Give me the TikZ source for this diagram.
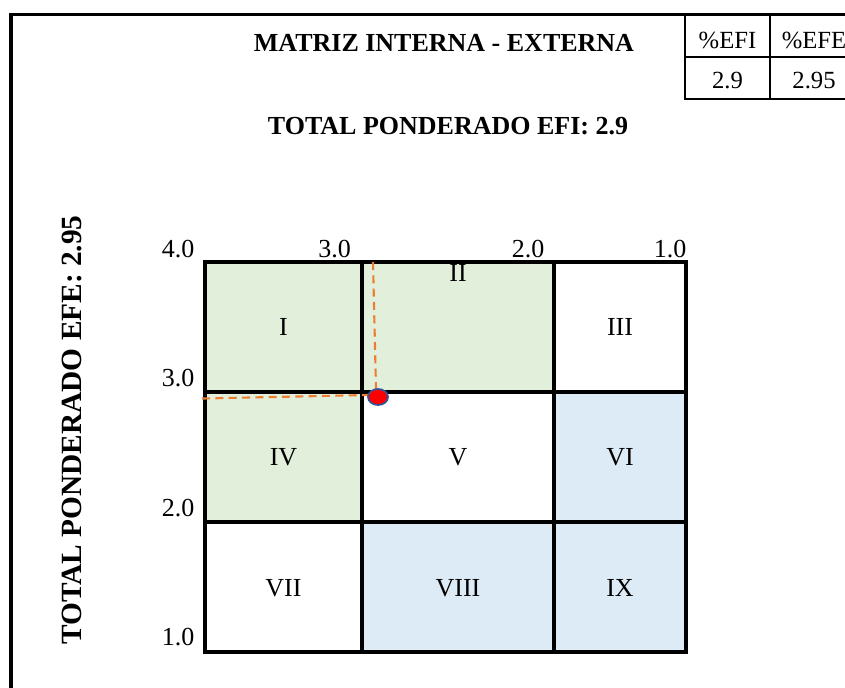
\documentclass[tikz,border=0pt]{standalone}
\usepackage{fontspec}
\setmainfont{Liberation Serif}
\definecolor{celdaverde}{HTML}{E2EFDA}
\definecolor{celdaazul}{HTML}{DDEBF7}
\definecolor{guia}{HTML}{ED7D31}
\definecolor{bordepunto}{HTML}{2F5597}
\tikzset{
    linea/.style={line width=2.6pt},
    etiqueta/.style={font=\fontsize{19.5}{22}\selectfont},
    celdatabla/.style={font=\fontsize{18.5}{21}\selectfont},
    titulo/.style={font=\fontsize{19.5}{22}\selectfont\bfseries},
    guiaeje/.style={draw=guia, line width=1.6pt, dash pattern=on 6pt off 4pt},
}
\begin{document}
\begin{tikzpicture}[x=0.75pt,y=-0.75pt]
\useasboundingbox (0,0) rectangle (845,687);
\clip (0,0) rectangle (845,687);
% marco
\draw[line width=2.5pt] (11,700)--(11,14.5)--(870,14.5);
% tabla de valores
\draw[line width=1.8pt] (685,14.5)--(685,99)--(870,99);
\draw[line width=1.8pt] (685,57)--(870,57);
\draw[line width=1.8pt] (770,14.5)--(770,99);
\node[celdatabla] (efi) at (727.5,40) {\%EFI};
\node[celdatabla] (efe) at (814,40) {\%EFE};
\node[celdatabla] (valefi) at (727.5,81) {2.9};
\node[celdatabla] (valefe) at (814,81) {2.95};
% titulos
\node[titulo] (titulo) at (444,43) {MATRIZ INTERNA - EXTERNA};
\node[titulo] (totalefi) at (448,126.5) {TOTAL PONDERADO EFI: 2.9};
\node[titulo, rotate=90, font=\fontsize{22}{24}\selectfont\bfseries] (totalefe) at (72,430) {TOTAL PONDERADO EFE: 2.95};
% celdas
\fill[celdaverde] (205,262) rectangle (554,392);
\fill[celdaverde] (205,392) rectangle (362,522);
\fill[celdaazul] (554,392) rectangle (686,522);
\fill[celdaazul] (362,522) rectangle (686,652);
\draw[linea] (205,262) rectangle (686,652);
\foreach \x in {362,554} \draw[linea] (\x,262)--(\x,652);
\foreach \y in {392,522} \draw[linea] (205,\y)--(686,\y);
% numeros romanos
\node[etiqueta] (c1) at (283.5,327) {I};
\node[etiqueta] (c2) at (458,273) {II};
\node[etiqueta] (c3) at (620,327) {III};
\node[etiqueta] (c4) at (283.5,457) {IV};
\node[etiqueta] (c5) at (458,457) {V};
\node[etiqueta] (c6) at (620,457) {VI};
\node[etiqueta] (c7) at (283.5,588) {VII};
\node[etiqueta] (c8) at (458,588) {VIII};
\node[etiqueta] (c9) at (620,588) {IX};
% escalas
\node[etiqueta] (x4) at (178,249) {4.0};
\node[etiqueta] (x3) at (334.5,249) {3.0};
\node[etiqueta] (x2) at (528,249) {2.0};
\node[etiqueta] (x1) at (670,249) {1.0};
\node[etiqueta] (y3) at (178,378) {3.0};
\node[etiqueta] (y2) at (178,508) {2.0};
\node[etiqueta] (y1) at (178,637) {1.0};
% posicion
\draw[guiaeje] (373,262)--(376,389);
\draw[guiaeje] (202,398.5)--(368,395);
\filldraw[fill=red, draw=bordepunto, line width=1.3pt] (378,397) ellipse [x radius=7.5pt, y radius=6pt];
\end{tikzpicture}
\end{document}
